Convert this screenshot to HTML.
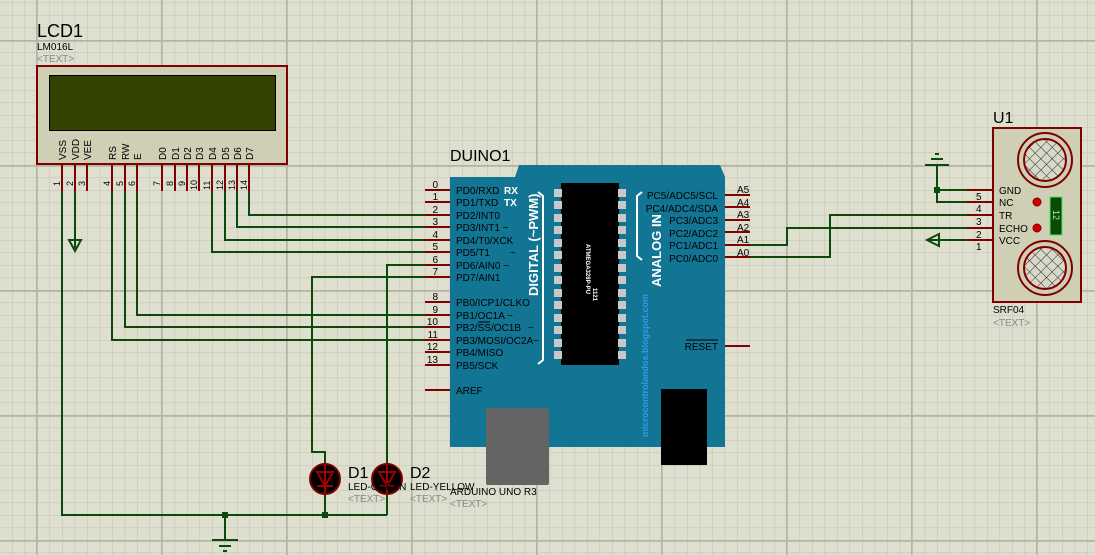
<!DOCTYPE html>
<html><head><meta charset="utf-8"><style>
html,body{margin:0;padding:0;background:#dfdfd0;}
svg{display:block;font-family:"Liberation Sans",Arial,sans-serif;}
</style></head><body>
<svg width="1095" height="555" viewBox="0 0 1095 555" xmlns="http://www.w3.org/2000/svg">
<defs>
<pattern id="minor" x="-0.5" y="2.5" width="12.5" height="12.5" patternUnits="userSpaceOnUse">
<path d="M0 0V12.5M0 0H12.5" stroke="#c6c6b6" stroke-width="1.2" fill="none"/>
</pattern>
<pattern id="major" x="36" y="40" width="125" height="125" patternUnits="userSpaceOnUse">
<path d="M0.5 0V125M0 0.5H125" stroke="#b4b4a4" stroke-width="2.4" fill="none"/>
</pattern>
<pattern id="mesh" width="8" height="8" patternUnits="userSpaceOnUse" patternTransform="rotate(45)">
<rect width="8" height="8" fill="#d8d8c8"/>
<path d="M0 0V8M0 0H8" stroke="#2a2a2a" stroke-width="1"/>
</pattern>
</defs>
<rect width="1095" height="555" fill="#dfdfd0"/>
<rect width="1095" height="555" fill="url(#minor)"/>
<rect width="1095" height="555" fill="url(#major)"/>

<!-- LCD -->
<text x="37" y="37" font-size="18" fill="#000">LCD1</text>
<text x="37" y="50" font-size="10" fill="#000">LM016L</text>
<text x="37" y="62" font-size="10" fill="#888">&lt;TEXT&gt;</text>
<rect x="37" y="66" width="250" height="98" fill="#cfcfb6" stroke="#800000" stroke-width="2"/>
<rect x="49.5" y="75.5" width="226" height="55" fill="#324200" stroke="#000" stroke-width="1"/>
<g stroke="#800000" stroke-width="2">
<path d="M62 164V191M75 164V191M87 164V191M112 164V191M125 164V191M137 164V191M162 164V191M175 164V191M187 164V191M199 164V191M212 164V191M225 164V191M237 164V191M249 164V191"/>
</g>
<g font-size="10" fill="#000">
<text transform="translate(66,160) rotate(-90)">VSS</text>
<text transform="translate(79,160) rotate(-90)">VDD</text>
<text transform="translate(91,160) rotate(-90)">VEE</text>
<text transform="translate(116,160) rotate(-90)">RS</text>
<text transform="translate(129,160) rotate(-90)">RW</text>
<text transform="translate(141,160) rotate(-90)">E</text>
<text transform="translate(166,160) rotate(-90)">D0</text>
<text transform="translate(179,160) rotate(-90)">D1</text>
<text transform="translate(191,160) rotate(-90)">D2</text>
<text transform="translate(203,160) rotate(-90)">D3</text>
<text transform="translate(216,160) rotate(-90)">D4</text>
<text transform="translate(229,160) rotate(-90)">D5</text>
<text transform="translate(241,160) rotate(-90)">D6</text>
<text transform="translate(253,160) rotate(-90)">D7</text>
</g>
<g font-size="9" fill="#000">
<text transform="translate(60,186) rotate(-90)">1</text>
<text transform="translate(73,186) rotate(-90)">2</text>
<text transform="translate(85,186) rotate(-90)">3</text>
<text transform="translate(110,186) rotate(-90)">4</text>
<text transform="translate(123,186) rotate(-90)">5</text>
<text transform="translate(135,186) rotate(-90)">6</text>
<text transform="translate(160,186) rotate(-90)">7</text>
<text transform="translate(173,186) rotate(-90)">8</text>
<text transform="translate(185,186) rotate(-90)">9</text>
<text transform="translate(197,190) rotate(-90)">10</text>
<text transform="translate(210,190) rotate(-90)">11</text>
<text transform="translate(223,190) rotate(-90)">12</text>
<text transform="translate(235,190) rotate(-90)">13</text>
<text transform="translate(247,190) rotate(-90)">14</text>
</g>

<!-- wires -->
<g stroke="#0b4a0b" stroke-width="2" fill="none">
<path d="M62 191V515H387"/>
<path d="M75 191V251"/>
<path d="M69 240H81L75 251Z"/>
<path d="M112 191V340H425"/>
<path d="M125 191V327H425"/>
<path d="M137 191V315H425"/>
<path d="M212 191V252H425"/>
<path d="M225 191V240H425"/>
<path d="M237 191V227H425"/>
<path d="M249 191V215H425"/>
<path d="M425 265H387V464"/>
<path d="M425 277H312V452H325V464"/>
<path d="M325 494V515M387 494V515"/>
<path d="M225 515V540"/>
<path d="M212 540H238M219 546H231M223 551H227"/>
<path d="M750 245H787V228H967"/>
<path d="M750 257H830V215H967"/>
<path d="M967 190H937V202H967"/>
<path d="M937 190V165M925 165H949M931 159H943M935 154H939"/>
<path d="M967 240H927M939 234L927 240L939 246Z"/>
</g>
<rect x="222" y="512" width="6" height="6" fill="#0b4a0b"/>
<rect x="322" y="512" width="6" height="6" fill="#0b4a0b"/>
<rect x="934" y="187" width="6" height="6" fill="#0b4a0b"/>

<!-- LEDs -->
<g>
<circle cx="325" cy="479" r="15" fill="#000" stroke="#800000" stroke-width="2"/>
<circle cx="387" cy="479" r="15" fill="#000" stroke="#800000" stroke-width="2"/>
<g stroke="#a00000" stroke-width="2" fill="none">
<path d="M325 464V494M317 472H333L325 486ZM317 486H333"/>
<path d="M387 464V494M379 472H395L387 486ZM379 486H395"/>
</g>
</g>
<text x="348" y="478" font-size="16" fill="#000">D1</text>
<text x="410" y="478" font-size="16" fill="#000">D2</text>
<text x="348" y="490" font-size="10" fill="#000">LED-GREEN</text>
<text x="410" y="490" font-size="10" fill="#000">LED-YELLOW</text>
<text x="348" y="502" font-size="10" fill="#888">&lt;TEXT&gt;</text>
<text x="410" y="502" font-size="10" fill="#888">&lt;TEXT&gt;</text>

<!-- Arduino -->
<text x="450" y="161" font-size="16" fill="#000">DUINO1</text>
<path d="M450 177H515L519 165H720L725 177V447H450Z" fill="#137594"/>
<rect x="486" y="408" width="63" height="77" rx="2" fill="#646464"/>
<rect x="661" y="389" width="46" height="76" fill="#000"/>
<rect x="561" y="183" width="58" height="182" fill="#000"/>
<g fill="#c8c8c8">
<rect x="554" y="189" width="8" height="8"/><rect x="554" y="201" width="8" height="8"/><rect x="554" y="214" width="8" height="8"/><rect x="554" y="226" width="8" height="8"/><rect x="554" y="239" width="8" height="8"/><rect x="554" y="251" width="8" height="8"/><rect x="554" y="264" width="8" height="8"/><rect x="554" y="276" width="8" height="8"/><rect x="554" y="289" width="8" height="8"/><rect x="554" y="301" width="8" height="8"/><rect x="554" y="314" width="8" height="8"/><rect x="554" y="326" width="8" height="8"/><rect x="554" y="339" width="8" height="8"/><rect x="554" y="351" width="8" height="8"/>
<rect x="618" y="189" width="8" height="8"/><rect x="618" y="201" width="8" height="8"/><rect x="618" y="214" width="8" height="8"/><rect x="618" y="226" width="8" height="8"/><rect x="618" y="239" width="8" height="8"/><rect x="618" y="251" width="8" height="8"/><rect x="618" y="264" width="8" height="8"/><rect x="618" y="276" width="8" height="8"/><rect x="618" y="289" width="8" height="8"/><rect x="618" y="301" width="8" height="8"/><rect x="618" y="314" width="8" height="8"/><rect x="618" y="326" width="8" height="8"/><rect x="618" y="339" width="8" height="8"/><rect x="618" y="351" width="8" height="8"/>
</g>
<text transform="translate(586,244) rotate(90)" font-size="6" fill="#fff" font-weight="bold">ATMEGA328P-PU</text>
<text transform="translate(593,288) rotate(90)" font-size="6" fill="#fff" font-weight="bold">1121</text>
<g stroke="#fff" stroke-width="2" fill="none">
<path d="M538 192L543 196V360L538 364"/>
<path d="M642 192L637 196V256L642 260"/>
</g>
<text transform="translate(538,296) rotate(-90)" font-size="13" font-weight="bold" fill="#fff">DIGITAL (~PWM)</text>
<text transform="translate(661,287) rotate(-90)" font-size="13" font-weight="bold" fill="#fff">ANALOG IN</text>
<text transform="translate(648,437) rotate(-90)" font-size="9" font-weight="bold" fill="#2a9ee8">microcontrolandos.blogspot.com</text>
<g font-size="10" fill="#000">
<text x="456" y="194">PD0/RXD</text><text x="456" y="206">PD1/TXD</text><text x="456" y="219">PD2/INT0</text>
<text x="456" y="231">PD3/INT1 ~</text><text x="456" y="244">PD4/T0/XCK</text><text x="456" y="256">PD5/T1</text><text x="510" y="256">~</text>
<text x="456" y="269">PD6/AIN0 ~</text><text x="456" y="281">PD7/AIN1</text>
<text x="456" y="306">PB0/ICP1/CLKO</text><text x="456" y="319">PB1/OC1A ~</text>
<text x="456" y="331">PB2/SS/OC1B</text><text x="528" y="331">~</text>
<text x="456" y="344">PB3/MOSI/OC2A~</text><text x="456" y="356">PB4/MISO</text><text x="456" y="369">PB5/SCK</text>
<text x="456" y="394">AREF</text>
<text x="718" y="199" text-anchor="end">PC5/ADC5/SCL</text><text x="718" y="212" text-anchor="end">PC4/ADC4/SDA</text>
<text x="718" y="224" text-anchor="end">PC3/ADC3</text><text x="718" y="237" text-anchor="end">PC2/ADC2</text>
<text x="718" y="249" text-anchor="end">PC1/ADC1</text><text x="718" y="262" text-anchor="end">PC0/ADC0</text>
<text x="718" y="350" text-anchor="end">RESET</text>
</g>
<path d="M686 340H718M478 322H490" stroke="#000" stroke-width="1"/>
<text x="504" y="194" font-size="10" font-weight="bold" fill="#fff">RX</text>
<text x="504" y="206" font-size="10" font-weight="bold" fill="#fff">TX</text>
<g stroke="#800000" stroke-width="2">
<path d="M425 190H450M425 202H450M425 215H450M425 227H450M425 240H450M425 252H450M425 265H450M425 277H450M425 302H450M425 315H450M425 327H450M425 340H450M425 352H450M425 365H450M425 390H450"/>
<path d="M725 195H750M725 207H750M725 220H750M725 232H750M725 245H750M725 257H750M725 346H750"/>
</g>
<g font-size="10" fill="#000" text-anchor="end">
<text x="438" y="188">0</text><text x="438" y="200">1</text><text x="438" y="213">2</text><text x="438" y="225">3</text><text x="438" y="238">4</text><text x="438" y="250">5</text><text x="438" y="263">6</text><text x="438" y="275">7</text><text x="438" y="300">8</text><text x="438" y="313">9</text><text x="438" y="325">10</text><text x="438" y="338">11</text><text x="438" y="350">12</text><text x="438" y="363">13</text>
</g>
<g font-size="10" fill="#000">
<text x="737" y="193">A5</text><text x="737" y="206">A4</text><text x="737" y="218">A3</text><text x="737" y="231">A2</text><text x="737" y="243">A1</text><text x="737" y="256">A0</text>
</g>
<text x="450" y="495" font-size="10" fill="#000">ARDUINO UNO R3</text>
<text x="450" y="507" font-size="10" fill="#888">&lt;TEXT&gt;</text>

<!-- SRF04 -->
<text x="993" y="123" font-size="16" fill="#000">U1</text>
<rect x="993" y="128" width="88" height="174" fill="#cfcfb6" stroke="#800000" stroke-width="2"/>
<circle cx="1045" cy="160" r="27" fill="none" stroke="#800000" stroke-width="2"/>
<circle cx="1045" cy="160" r="21" fill="url(#mesh)" stroke="#800000" stroke-width="2"/>
<circle cx="1045" cy="268" r="27" fill="none" stroke="#800000" stroke-width="2"/>
<circle cx="1045" cy="268" r="21" fill="url(#mesh)" stroke="#800000" stroke-width="2"/>
<rect x="1050" y="197" width="12" height="38" fill="#0b4a0b" stroke="#4fe84f" stroke-width="1"/>
<text transform="translate(1053,210) rotate(90)" font-size="9" fill="#aef0ae">12</text>
<circle cx="1037" cy="202" r="4" fill="#d00000" stroke="#800000"/>
<circle cx="1037" cy="228" r="4" fill="#d00000" stroke="#800000"/>
<g stroke="#800000" stroke-width="2">
<path d="M967 190H993M967 202H993M967 215H993M967 228H993M967 240H993"/>
</g>
<g font-size="10" fill="#000">
<text x="999" y="194">GND</text><text x="999" y="206">NC</text><text x="999" y="219">TR</text><text x="999" y="232">ECHO</text><text x="999" y="244">VCC</text>
<text x="976" y="200">5</text><text x="976" y="212">4</text><text x="976" y="225">3</text><text x="976" y="238">2</text><text x="976" y="250">1</text>
<text x="993" y="313">SRF04</text>
</g>
<text x="993" y="326" font-size="10" fill="#888">&lt;TEXT&gt;</text>
</svg>
</body></html>
